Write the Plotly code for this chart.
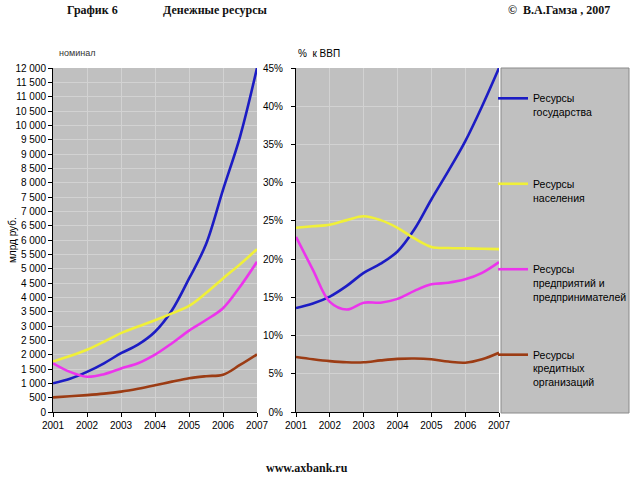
import plotly.graph_objects as go

# ---- data ----
periods = [2001, 2001.5, 2002, 2002.5, 2003, 2003.5, 2004, 2004.5, 2005, 2005.5, 2006, 2006.5, 2007]
year_ticks = [2001, 2002, 2003, 2004, 2005, 2006, 2007]

series_names = ["Ресурсы<br>государства<br> ",
                "Ресурсы<br>населения<br> ",
                "Ресурсы<br>предприятий и<br>предпринимателей",
                "Ресурсы<br>кредитных<br>организаций"]
series_colors = ["#1c1cc4", "#f0f038", "#ec34ec", "#9c3c14"]

# nominal, bn roubles
gov_nominal = [1000, 1160, 1400, 1700, 2050, 2350, 2800, 3550, 4650, 5850, 7750, 9600, 12000]
pop_nominal = [1760, 1950, 2170, 2450, 2750, 2980, 3200, 3440, 3700, 4150, 4660, 5150, 5680]
ent_nominal = [1700, 1400, 1230, 1320, 1520, 1700, 2000, 2400, 2840, 3210, 3620, 4370, 5240]
crd_nominal = [510, 550, 590, 640, 710, 810, 930, 1060, 1180, 1250, 1300, 1640, 2010]

# % of GDP
gov_gdp = [13.6, 14.2, 15.1, 16.5, 18.2, 19.4, 21.0, 23.9, 27.8, 31.5, 35.4, 40.0, 45.0]
pop_gdp = [24.1, 24.3, 24.5, 25.1, 25.6, 25.1, 24.1, 22.7, 21.6, 21.45, 21.4, 21.35, 21.3]
ent_gdp = [22.9, 18.6, 14.4, 13.4, 14.3, 14.3, 14.8, 15.85, 16.7, 16.9, 17.35, 18.2, 19.6]
crd_gdp = [7.2, 6.9, 6.65, 6.5, 6.5, 6.75, 6.95, 7.0, 6.9, 6.6, 6.45, 6.9, 7.75]

nominal = [gov_nominal, pop_nominal, ent_nominal, crd_nominal]
gdp = [gov_gdp, pop_gdp, ent_gdp, crd_gdp]

W, H = 640, 480
def px(x):
    return x / W
def py(y):
    return (H - y) / H

fig = go.Figure()
for i in range(4):
    fig.add_trace(go.Scatter(
        x=periods, y=nominal[i], xaxis="x", yaxis="y", mode="lines",
        line=dict(color=series_colors[i], width=2.6, shape="spline", smoothing=1),
        showlegend=False, legendgroup=str(i), hoverinfo="skip"))
for i in range(4):
    fig.add_trace(go.Scatter(
        x=periods, y=gdp[i], xaxis="x2", yaxis="y2", mode="lines",
        line=dict(color=series_colors[i], width=2.6, shape="spline", smoothing=1),
        name=series_names[i], showlegend=True, legendgroup=str(i), hoverinfo="skip"))

tickfont = dict(family="Liberation Sans, Arial, sans-serif", size=10, color="#000")
grid = "#d2d2d2"
common_x = dict(range=[2001, 2007], tickvals=year_ticks, ticktext=[str(v) for v in year_ticks],
                showgrid=True, gridcolor=grid, gridwidth=1, showline=True, linecolor="#000",
                linewidth=1, ticks="outside", ticklen=4, tickcolor="#000", tickfont=tickfont,
                zeroline=False, fixedrange=True, automargin=False)
common_y = dict(showgrid=True, gridcolor=grid, gridwidth=1, showline=True, linecolor="#000",
                linewidth=1, ticks="outside", ticklen=4, tickcolor="#000", tickfont=tickfont,
                zeroline=False, fixedrange=True, automargin=False)

serif = "Liberation Serif, Times New Roman, serif"
fig.update_layout(
    width=W, height=H, margin=dict(l=0, r=0, t=0, b=0, autoexpand=False),
    paper_bgcolor="white", plot_bgcolor="#c0c0c0",
    separators=", ",
    xaxis=dict(domain=[px(53), px(257)], anchor="y", **common_x),
    yaxis=dict(domain=[py(412), py(68)], anchor="x", range=[0, 12000], dtick=500,
               tickformat=",d", **common_y),
    xaxis2=dict(domain=[px(296), px(499)], anchor="y2", **common_x),
    yaxis2=dict(domain=[py(412), py(68)], anchor="x2", range=[0, 45], dtick=5,
                ticksuffix="%", ticklabelstandoff=6, **common_y),
    legend=dict(x=px(493), xanchor="left", y=py(85), yanchor="top",
                bgcolor="rgba(0,0,0,0)", borderwidth=0, valign="top",
                tracegroupgap=41.5, itemwidth=30,
                font=dict(family="Liberation Sans, Arial, sans-serif", size=10.5, color="#000")),
    shapes=[dict(type="rect", xref="paper", yref="paper",
                 x0=px(501), x1=px(629), y0=py(413), y1=py(68),
                 fillcolor="#c0c0c0", line=dict(color="#8a8a8a", width=1), layer="below")],
    annotations=[
        dict(text="<b>График 6</b>", x=px(65), y=py(10), xref="paper", yref="paper",
             xanchor="left", yanchor="middle", showarrow=False,
             font=dict(family=serif, size=12, color="#111")),
        dict(text="<b>Денежные ресурсы</b>", x=px(161), y=py(10), xref="paper", yref="paper",
             xanchor="left", yanchor="middle", showarrow=False,
             font=dict(family=serif, size=12, color="#111")),
        dict(text="<b>©  В.А.Гамза , 2007</b>", x=px(612), y=py(10), xref="paper", yref="paper",
             xanchor="right", yanchor="middle", showarrow=False,
             font=dict(family=serif, size=12, color="#111")),
        dict(text="<b>www.axbank.ru</b>", x=px(307), y=py(468), xref="paper", yref="paper",
             xanchor="center", yanchor="middle", showarrow=False,
             font=dict(family=serif, size=12, color="#111")),
        dict(text="номинал", x=px(57), y=py(53), xref="paper", yref="paper",
             xanchor="left", yanchor="middle", showarrow=False,
             font=dict(family="Liberation Sans, Arial, sans-serif", size=9, color="#333")),
        dict(text="%  к ВВП", x=px(296), y=py(53), xref="paper", yref="paper",
             xanchor="left", yanchor="middle", showarrow=False,
             font=dict(family="Liberation Sans, Arial, sans-serif", size=10, color="#000")),
        dict(text="млрд руб.", x=px(12), y=py(240), xref="paper", yref="paper",
             xanchor="center", yanchor="middle", showarrow=False, textangle=-90,
             font=dict(family="Liberation Sans, Arial, sans-serif", size=10, color="#000")),
    ],
)

fig.write_html("out.html", config={"displayModeBar": False},
               post_script="document.body.style.margin='0';")
